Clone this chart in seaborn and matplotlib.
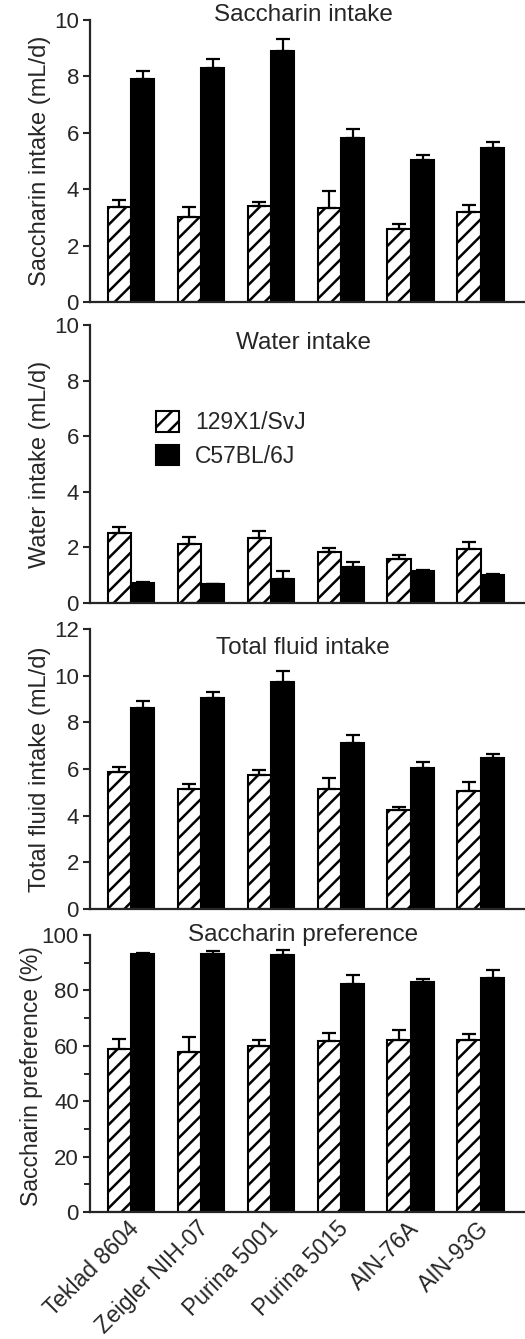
import matplotlib
matplotlib.use("Agg")
import matplotlib.pyplot as plt
import matplotlib.transforms as mtransforms
from matplotlib.ticker import MultipleLocator
import seaborn as sns
import pandas as pd
import numpy as np

diets = ["Teklad 8604", "Zeigler NIH-07", "Purina 5001", "Purina 5015", "AIN-76A", "AIN-93G"]
strains = ["129X1/SvJ", "C57BL/6J"]

# saccharin intake (mL/d), mean and SEM
sacc_129 = [3.37, 3.02, 3.40, 3.35, 2.59, 3.18]
sacc_129_se = [0.24, 0.35, 0.14, 0.59, 0.17, 0.25]
sacc_b6 = [7.91, 8.30, 8.90, 5.83, 5.04, 5.47]
sacc_b6_se = [0.27, 0.33, 0.44, 0.29, 0.18, 0.21]

# water intake (mL/d)
water_129 = [2.51, 2.11, 2.35, 1.82, 1.59, 1.93]
water_129_se = [0.22, 0.25, 0.24, 0.15, 0.14, 0.25]
water_b6 = [0.71, 0.67, 0.85, 1.28, 1.15, 1.01]
water_b6_se = [0.03, 0.03, 0.31, 0.21, 0.05, 0.04]

# total fluid intake (mL/d)
total_129 = [5.89, 5.14, 5.73, 5.13, 4.24, 5.06]
total_129_se = [0.20, 0.20, 0.24, 0.50, 0.15, 0.40]
total_b6 = [8.63, 9.03, 9.71, 7.10, 6.06, 6.46]
total_b6_se = [0.30, 0.28, 0.50, 0.34, 0.25, 0.18]

# saccharin preference (%)
pref_129 = [58.8, 57.8, 60.0, 61.9, 62.1, 62.1]
pref_129_se = [3.7, 5.3, 2.1, 2.6, 3.6, 2.2]
pref_b6 = [93.1, 93.3, 92.8, 82.3, 83.2, 84.6]
pref_b6_se = [0.4, 0.8, 1.7, 3.3, 0.8, 2.8]

panels = [
    ("Saccharin intake", "Saccharin intake (mL/d)", sacc_129, sacc_129_se, sacc_b6, sacc_b6_se, 10, 2),
    ("Water intake", "Water intake (mL/d)", water_129, water_129_se, water_b6, water_b6_se, 10, 2),
    ("Total fluid intake", "Total fluid intake (mL/d)", total_129, total_129_se, total_b6, total_b6_se, 12, 2),
    ("Saccharin preference", "Saccharin preference (%)", pref_129, pref_129_se, pref_b6, pref_b6_se, 100, 20),
]

sns.set_style("ticks")
plt.rcParams["font.family"] = ["Liberation Sans", "DejaVu Sans"]
plt.rcParams["hatch.linewidth"] = 1.8
plt.rcParams["axes.linewidth"] = 1.6

W, H = 525, 1339
fig = plt.figure(figsize=(W / 100, H / 100), dpi=100)

# (top, bottom) of each axes in pixels
boxes = [(20, 302), (325, 603), (629, 909), (935, 1212)]
title_y = [1.018, 0.935, 0.932, 1.0]

for k, (title, ylabel, v1, e1, v2, e2, ymax, step) in enumerate(panels):
    top, bottom = boxes[k]
    ax = fig.add_axes([90 / W, 1 - bottom / H, 435 / W, (bottom - top) / H])

    df = pd.DataFrame({
        "diet": diets * 2,
        "strain": [strains[0]] * 6 + [strains[1]] * 6,
        "value": v1 + v2,
    })
    sns.barplot(data=df, x="diet", y="value", hue="strain", order=diets,
                hue_order=strains, palette=["white", "black"], saturation=1,
                width=0.67, edgecolor="black", linewidth=1.5, errorbar=None,
                legend=False, ax=ax)

    for cont, err in zip(ax.containers, [e1, e2]):
        xs = [p.get_x() + p.get_width() / 2 for p in cont]
        ys = [p.get_height() for p in cont]
        ax.errorbar(xs, ys, yerr=[np.zeros(len(err)), err], fmt="none",
                    ecolor="black", elinewidth=1.6, capsize=5, capthick=1.6,
                    zorder=1)
    for p in ax.containers[0]:
        p.set_hatch("//")

    ax.set_xlim(-0.586, 5.63)
    ax.set_ylim(0, ymax)
    ax.set_yticks(np.arange(0, ymax + 0.01, step))
    if k == 3:
        ax.yaxis.set_minor_locator(MultipleLocator(10))
        ax.tick_params(axis="y", which="minor", length=4, width=1.4, direction="out")
    ax.tick_params(axis="y", which="major", length=5, width=1.5, labelsize=16, pad=3)
    ax.tick_params(axis="x", length=0)
    sns.despine(ax=ax)

    ax.set_xlabel("")
    if k == 3:
        # keep the long label clear of the "100" tick label
        ax.set_ylabel(ylabel, fontsize=16.5)
        ax.yaxis.set_label_coords(-0.108, 0.49)
    else:
        ax.set_ylabel(ylabel, fontsize=17)
        ax.yaxis.set_label_coords(-0.09, 0.5)
    ax.text(0.49, title_y[k], title, transform=ax.transAxes, ha="center",
            va="center", fontsize=17.5)

    if k == 3:
        ax.set_xticks(range(len(diets)))
        ax.set_xticklabels(diets, rotation=45, ha="right", va="top",
                           rotation_mode="anchor", fontsize=16.5)
        off = mtransforms.ScaledTranslation(-4 / 100, 0, fig.dpi_scale_trans)
        for lab in ax.get_xticklabels():
            lab.set_transform(lab.get_transform() + off)
    else:
        ax.set_xticklabels([])

    if k == 1:
        ax.legend(handles=list(ax.containers), labels=strains, frameon=False,
                  loc="upper left", bbox_to_anchor=(0.152, 0.69), borderpad=0,
                  borderaxespad=0, handlelength=1.0, handleheight=1.0,
                  handletextpad=0.7, labelspacing=0.45, fontsize=16.5)

fig.savefig("out.png", dpi=100)
